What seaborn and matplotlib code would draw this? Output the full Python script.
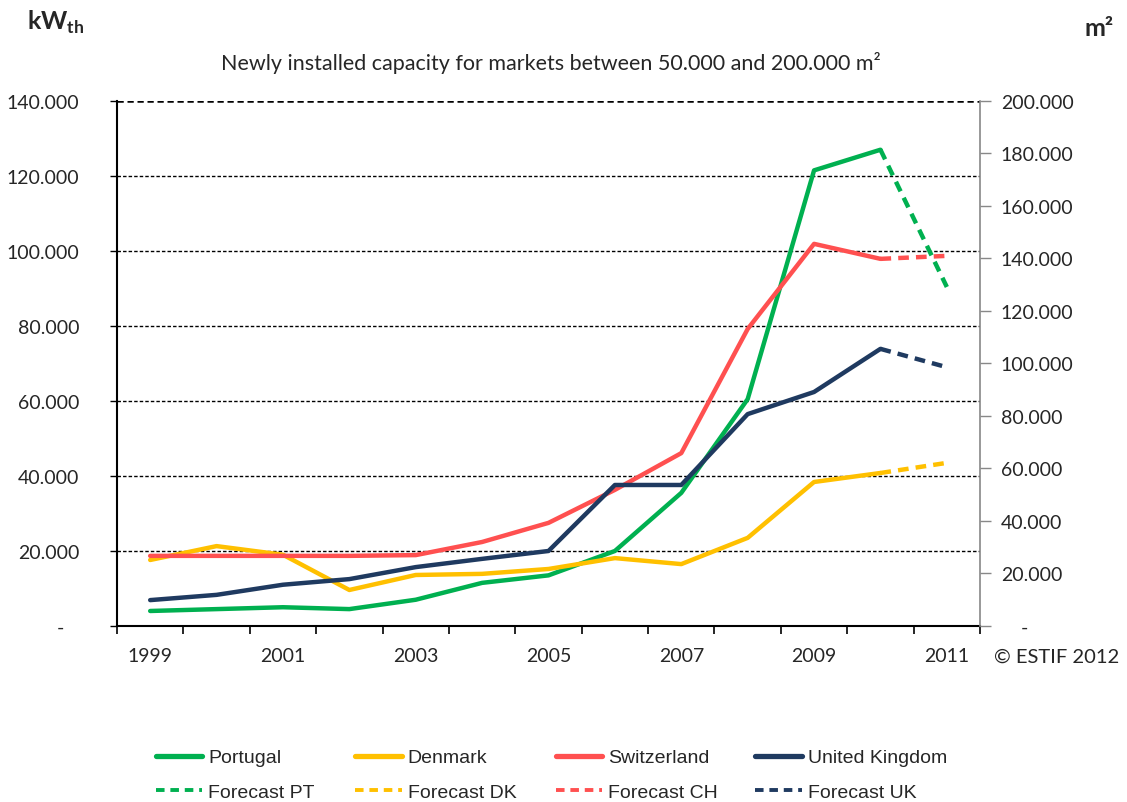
import numpy as np
import pandas as pd
import matplotlib
matplotlib.use("Agg")
import matplotlib.pyplot as plt
import seaborn as sns
from matplotlib.ticker import FuncFormatter, FixedLocator
from matplotlib.lines import Line2D

# actual values 1999-2010 (kWth), forecast for 2011
years = list(range(1999, 2011))
forecast_year = 2011
portugal = [4000, 4500, 5000, 4500, 7000, 11500, 13500, 20000, 35500, 60500, 121500, 127000]
denmark = [17600, 21300, 19000, 9600, 13600, 13900, 15200, 18100, 16500, 23500, 38400, 40800]
switzerland = [18700, 18700, 18700, 18700, 18900, 22400, 27500, 36300, 46100, 79200, 101900, 97900]
uk = [6900, 8300, 11000, 12500, 15700, 17900, 20000, 37600, 37600, 56500, 62400, 73900]
forecast = {"PT": 90400, "DK": 43500, "CH": 98700, "UK": 69000}

names = ["Portugal", "Denmark", "Switzerland", "United Kingdom"]
codes = ["PT", "DK", "CH", "UK"]
colors = ["#00B050", "#FFC000", "#FF5050", "#1F3A60"]
series = [portugal, denmark, switzerland, uk]

sns.set_style("white")
plt.rcParams["font.family"] = ["Lato", "DejaVu Sans"]

fig = plt.figure(figsize=(11.27, 8.03), dpi=100)
ax = fig.add_axes([0.1038, 0.2192, 0.7658, 0.6538])

for name, code, col, vals in zip(names, codes, colors, series):
    df = pd.DataFrame({"year": years, "kw": vals})
    sns.lineplot(data=df, x="year", y="kw", color=col, linewidth=3.2, ax=ax)
    fc = pd.DataFrame({"year": [years[-1], forecast_year], "kw": [vals[-1], forecast[code]]})
    sns.lineplot(data=fc, x="year", y="kw", color=col, linewidth=3.2,
                 linestyle=(0, (2.4, 1.6)), ax=ax)

ax.set_xlim(1998.5, 2011.5)
ax.set_ylim(0, 140000)
ax.set_xlabel("")
ax.set_ylabel("")

def thou(v, pos):
    if v == 0:
        return "-   "
    return f"{int(v):,}".replace(",", ".")

ax.yaxis.set_major_locator(FixedLocator(np.arange(0, 140001, 20000)))
ax.yaxis.set_major_formatter(FuncFormatter(thou))
ax.tick_params(axis="y", direction="out", length=5, width=1, color="black",
               labelsize=14, pad=22, left=True)

# boundaries as ticks, odd years as labels
ax.xaxis.set_major_locator(FixedLocator(np.arange(1998.5, 2012, 1)))
ax.xaxis.set_major_formatter(FuncFormatter(lambda v, p: ""))
ax.xaxis.set_minor_locator(FixedLocator(list(range(1999, 2012, 2))))
ax.xaxis.set_minor_formatter(FuncFormatter(lambda v, p: str(int(v))))
ax.tick_params(axis="x", which="major", direction="out", length=6, width=1.2,
               color="black", bottom=True)
ax.tick_params(axis="x", which="minor", length=0, labelsize=14, pad=15)

for yv in np.arange(20000, 140001, 20000):
    ax.axhline(yv, color="black", linestyle=(0, (2.5, 1.5)),
               linewidth=1.8 if yv == 140000 else 1.0, zorder=0)

for s in ["top", "right"]:
    ax.spines[s].set_visible(False)
ax.spines["left"].set_color("black")
ax.spines["left"].set_linewidth(1.5)
ax.spines["bottom"].set_color("black")
ax.spines["bottom"].set_linewidth(1.5)

# right axis in m2 (0.7 kWth per m2)
ax2 = ax.twinx()
ax2.set_ylim(0, 140000 / 0.7)
def thou2(v, pos):
    if v == 0:
        return "    -"
    return f"{int(v):,}".replace(",", ".")
ax2.yaxis.set_major_locator(FixedLocator(np.arange(0, 200001, 20000)))
ax2.yaxis.set_major_formatter(FuncFormatter(thou2))
ax2.tick_params(axis="y", direction="out", length=8, width=1, color="#888888",
                labelsize=14, pad=7, right=True)
for s in ["top", "left", "bottom"]:
    ax2.spines[s].set_visible(False)
ax2.spines["right"].set_color("#888888")
ax2.spines["right"].set_linewidth(1.2)

fig.text(0.489, 0.921, "Newly installed capacity for markets between 50.000 and 200.000 m²",
         ha="center", va="center", fontsize=15.5)
fig.text(0.024, 0.972, "kW$_{\\mathregular{th}}$", ha="left", va="center",
         fontsize=18, fontweight="bold")
fig.text(0.962, 0.965, "m²", ha="left", va="center", fontsize=18, fontweight="bold")
fig.text(0.882, 0.182, "© ESTIF 2012", ha="left", va="center", fontsize=14.5)

# one small legend per column, equally spaced like the original
col_x = [0.138, 0.315, 0.493, 0.670]
for x0, name, code, col in zip(col_x, names, codes, colors):
    hs = [Line2D([], [], color=col, linewidth=3.8),
          Line2D([], [], color=col, linewidth=2.8, linestyle=(0, (2.2, 1.5)))]
    fig.legend(hs, [name, "Forecast " + code], loc="center left",
               bbox_to_anchor=(x0, 0.034), frameon=False,
               prop={"family": "Liberation Sans", "size": 14},
               handlelength=2.4, handletextpad=0.3, labelspacing=0.85,
               borderaxespad=0, borderpad=0)

fig.savefig("out.png", dpi=100)
